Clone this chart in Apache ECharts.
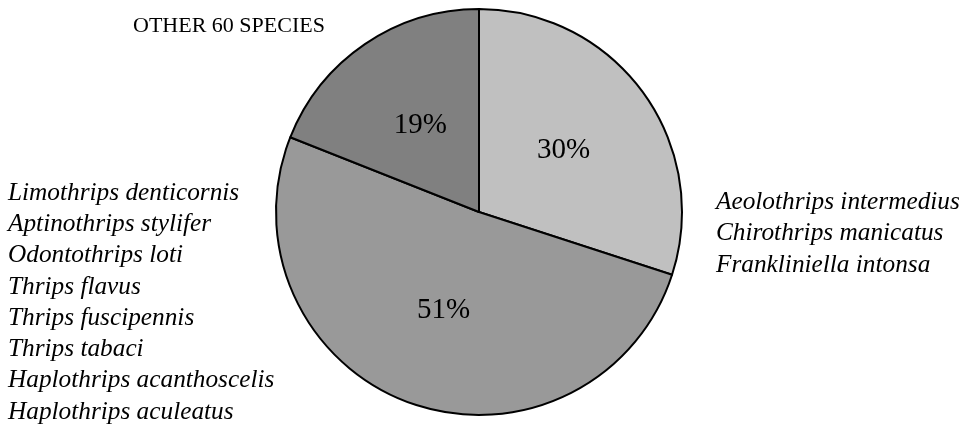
<!DOCTYPE html>
<html>
<head>
<meta charset="utf-8">
<script src="https://cdn.jsdelivr.net/npm/echarts@6/dist/echarts.min.js"></script>
<style>
  html, body { margin: 0; padding: 0; background: #fff; }
  #chart { width: 967px; height: 427px; }
</style>
</head>
<body>
<div id="chart"></div>
<script>
// Share of thrips species, by group (percent)
const groupNames = ['Aeolothrips group', 'Limothrips group', 'Other species'];
const groupValues = [30, 51, 19];

// Species listed beside each group
const rightSpecies = ['Aeolothrips intermedius', 'Chirothrips manicatus', 'Frankliniella intonsa'];
const leftSpecies = [
  'Limothrips denticornis', 'Aptinothrips stylifer', 'Odontothrips loti', 'Thrips flavus',
  'Thrips fuscipennis', 'Thrips tabaci', 'Haplothrips acanthoscelis', 'Haplothrips aculeatus'
];
const otherLabel = 'OTHER 60 SPECIES';

const sliceFills = ['#c0c0c0', '#999999', '#808080'];
const serif = '"Liberation Serif", "Times New Roman", serif';

const chart = echarts.init(document.getElementById('chart'), null, { renderer: 'canvas' });

function listText(lines, x, y0, step) {
  return lines.map((t, i) => ({
    type: 'text',
    silent: true,
    style: {
      text: t,
      x: x,
      y: y0 + i * step,
      font: 'italic 25.3px ' + serif,
      fill: '#000',
      align: 'left',
      verticalAlign: 'middle'
    }
  }));
}

const option = {
  animation: false,
  backgroundColor: '#fff',
  series: [{
    type: 'pie',
    center: [479, 212],
    radius: [0, 203],
    startAngle: 90,
    clockwise: true,
    avoidLabelOverlap: false,
    data: groupNames.map((n, i) => ({
      name: n,
      value: groupValues[i],
      itemStyle: { color: sliceFills[i] }
    })),
    itemStyle: { borderColor: '#000', borderWidth: 2 },
    label: {
      show: true,
      position: 'inside',
      formatter: '{c}%',
      fontFamily: serif,
      fontSize: 29,
      color: '#000'
    },
    labelLine: { show: false },
    emphasis: { disabled: true }
  }],
  graphic: [
    {
      type: 'text',
      silent: true,
      style: {
        text: otherLabel,
        x: 133,
        y: 26,
        font: '22px ' + serif,
        fill: '#000',
        align: 'left',
        verticalAlign: 'middle'
      }
    },
    ...listText(rightSpecies, 716, 202, 31.5),
    ...listText(leftSpecies, 8, 193, 31.3)
  ]
};

chart.setOption(option);
</script>
</body>
</html>
